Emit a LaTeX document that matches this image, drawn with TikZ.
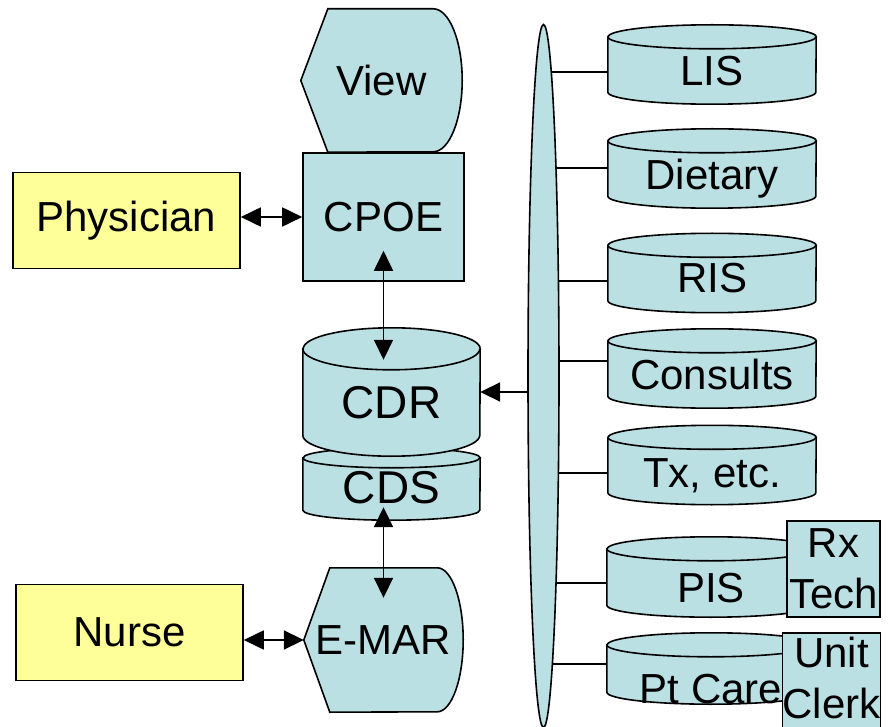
\documentclass[tikz,border=0pt]{standalone}
\usepackage{fontspec}
\setmainfont{Liberation Sans}
\usetikzlibrary{shapes.geometric,arrows.meta,backgrounds}
\definecolor{sysblue}{HTML}{BBE0E3}
\definecolor{useryellow}{HTML}{FFFF99}
\tikzset{
  box/.style={draw, line width=1.6pt, fill=sysblue},
  userbox/.style={draw, line width=1.6pt, fill=useryellow, minimum width=227pt, minimum height=96pt},
  db/.style={inner sep=0pt, minimum width=208pt, minimum height=79pt, text depth=0pt, text height=43pt},
  link/.style={line width=1.8pt},
  biarrow/.style={line width=1.8pt, {Triangle[length=20pt,width=19pt]}-{Triangle[length=20pt,width=19pt]}},
  onearrow/.style={line width=1.8pt, -{Triangle[length=20pt,width=19pt]}}
}
\begin{document}
\begin{tikzpicture}[x=1pt,y=-1pt,font=\fontsize{42}{51}\selectfont]
	\useasboundingbox (0,0) rectangle (889,727);
	\clip (0,0) rectangle (889,727);

	% users
	\node[userbox] (phys) at (126.5,220.5) {Physician};
	\node[userbox] (nurse) at (129.5,632.5) {Nurse};

	% order entry and charting
	\node[box, minimum width=161pt, minimum height=128pt] (cpoe) at (383.5,217) {CPOE};
	\node[minimum width=161pt, minimum height=143pt] (view) at (381.5,80.5) {View};
	\node[minimum width=159pt, minimum height=144pt] (emar) at (383.5,640) {E-MAR};

	% repository
	\node[db, minimum width=177pt, minimum height=72pt, text height=38pt, font=\fontsize{46}{50}\selectfont] (cds) at (391.5,484) {CDS};
	\node[db, minimum width=177pt, minimum height=128pt, text height=52pt, font=\fontsize{46}{50}\selectfont] (cdr) at (391.5,392) {CDR};

	% interface bus
	\node[ellipse, draw, line width=1.6pt, fill=sysblue, minimum width=31pt, minimum height=703pt] (bus) at (543.5,376) {};

	% ancillary systems
	\node[db] (lis) at (712,64.5) {LIS};
	\node[db] (diet) at (712,168.5) {Dietary};
	\node[db, text height=40pt] (ris) at (712,273) {RIS};
	\node[db, text height=41pt] (cons) at (712,368.5) {Consults};
	\node[db, text height=44pt] (tx) at (712,465) {Tx, etc.};
	\node[db, minimum height=80pt, text height=50pt] (pis) at (711,577) {PIS};
	\node[db, minimum height=71pt, text height=69pt] (ptcare) at (711,668.5) {Pt Care};
	\node[box, minimum width=93pt, minimum height=96pt, align=center, inner sep=0pt] (rxtech) at (833.5,569) {Rx\\Tech};
	\node[box, minimum width=95pt, minimum height=102pt, align=center, inner sep=0pt, text depth=13pt] (clerk) at (831.5,684) {Unit\\Clerk};

	\begin{scope}[on background layer]
		\draw[box] (view.west) -- ([xshift=27pt]view.north west) -- ([xshift=-29pt]view.north east)
			arc[start angle=90, end angle=-90, x radius=29pt, y radius=71.5pt] -- ([xshift=27pt]view.south west) -- cycle;
		\draw[box] (emar.west) -- ([xshift=26pt]emar.north west) -- ([xshift=-26pt]emar.north east)
			arc[start angle=90, end angle=-90, x radius=26pt, y radius=72pt] -- ([xshift=26pt]emar.south west) -- cycle;
		% cylinders
		\foreach \n/\rx/\ry in {cds/88.5/10, cdr/88.5/21, lis/104/12, diet/104/12, ris/104/12, cons/104/12, tx/104/12, pis/104/12, ptcare/104/12} {
			\draw[box] ([yshift=-\ry pt]\n.north west) -- ([yshift=\ry pt]\n.south west)
				arc[start angle=180, end angle=360, x radius=\rx pt, y radius=\ry pt]
				-- ([yshift=-\ry pt]\n.north east)
				arc[start angle=0, end angle=180, x radius=\rx pt, y radius=\ry pt] -- cycle;
			\draw[line width=1.6pt] ([yshift=-\ry pt]\n.north west)
				arc[start angle=180, end angle=360, x radius=\rx pt, y radius=\ry pt];
		}
		\draw[link] ([yshift=-7.5pt]lis.west) -- ([yshift=-7.5pt]bus.center |- lis.west);
		\draw[link] ([yshift=0.5pt]diet.west) -- ([yshift=0.5pt]bus.center |- diet.west);
		\draw[link] ([yshift=-8pt]ris.west) -- ([yshift=-8pt]bus.center |- ris.west);
		\draw[link] ([yshift=7.5pt]cons.west) -- ([yshift=7.5pt]bus.center |- cons.west);
		\draw[link] ([yshift=-8pt]tx.west) -- ([yshift=-8pt]bus.center |- tx.west);
		\draw[link] ([yshift=-6pt]pis.west) -- ([yshift=-6pt]bus.center |- pis.west);
		\draw[link] ([yshift=4.5pt]ptcare.west) -- ([yshift=4.5pt]bus.center |- ptcare.west);
		\draw[onearrow] (bus.center |- cdr.east) -- (cdr.east);
	\end{scope}

	\draw[biarrow] (phys.east |- cpoe.west) -- (cpoe.west);
	\draw[biarrow] (nurse.east |- emar.west) -- (emar.west);
	\draw[biarrow] ([yshift=31pt]cpoe.south) -- ([yshift=-32pt]cpoe.south |- cdr.north);
	\draw[biarrow] ([yshift=13pt]emar.north |- cds.south) -- ([yshift=-30pt]emar.north);
\end{tikzpicture}
\end{document}
